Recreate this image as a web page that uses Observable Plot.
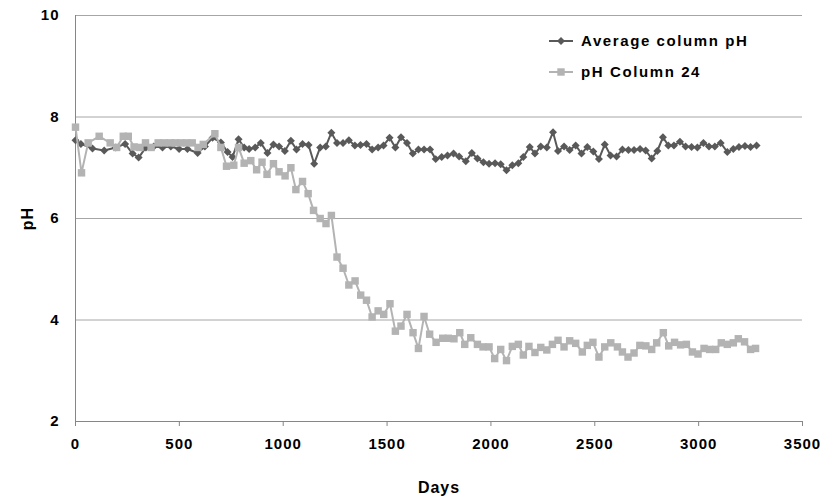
<!DOCTYPE html>
<html>
<head>
<meta charset="utf-8">
<script src="https://cdn.jsdelivr.net/npm/d3@7"></script>
<script src="https://cdn.jsdelivr.net/npm/@observablehq/plot@0.6"></script>
<style>
  html, body { margin: 0; padding: 0; background: #fff; }
  #wrap { position: relative; width: 823px; height: 498px; font-family: "Liberation Sans", Arial, sans-serif; }
  #wrap svg text { font-weight: bold; letter-spacing: 1px; }
  #wrap svg [aria-label="x-axis label"] text, #wrap svg [aria-label="y-axis label"] text { font-size: 16px; }
  .legend { position: absolute; left: 548px; top: 25px; font-size: 15px; font-weight: bold; color: #000; letter-spacing: 1.6px; }
  .legend .row { display: flex; align-items: center; height: 31px; }
  .legend svg { margin-right: 7px; }
</style>
</head>
<body>
<div id="wrap"></div>
<script>
// Average column pH (dark diamonds)
const avgDays = [0,26,82,138,194,239,275,304,339,377,419,459,499,539,588,623,660,700,732,756,785,812,836,865,892,924,953,980,1008,1037,1064,1093,1122,1149,1178,1205,1232,1259,1288,1316,1345,1372,1401,1428,1457,1483,1512,1540,1567,1596,1624,1651,1678,1707,1734,1763,1791,1820,1847,1879,1908,1935,1964,1991,2020,2047,2075,2103,2132,2156,2187,2212,2240,2269,2299,2323,2352,2379,2408,2436,2464,2493,2520,2548,2576,2605,2633,2662,2689,2718,2745,2774,2801,2828,2854,2881,2910,2937,2966,2994,3023,3050,3078,3106,3138,3167,3194,3223,3250,3279];
const avgPH = [7.54,7.47,7.38,7.34,7.40,7.47,7.28,7.20,7.40,7.42,7.40,7.42,7.37,7.37,7.29,7.42,7.59,7.50,7.31,7.21,7.56,7.40,7.37,7.40,7.49,7.29,7.46,7.42,7.33,7.53,7.36,7.47,7.45,7.08,7.40,7.42,7.69,7.49,7.49,7.54,7.44,7.45,7.47,7.36,7.40,7.44,7.59,7.40,7.60,7.49,7.28,7.36,7.36,7.36,7.17,7.21,7.24,7.28,7.22,7.13,7.29,7.18,7.11,7.08,7.09,7.07,6.95,7.05,7.09,7.21,7.41,7.28,7.42,7.40,7.70,7.33,7.42,7.35,7.44,7.28,7.41,7.32,7.17,7.46,7.24,7.22,7.36,7.35,7.35,7.37,7.34,7.18,7.33,7.60,7.44,7.44,7.51,7.42,7.41,7.40,7.49,7.42,7.42,7.49,7.31,7.37,7.41,7.43,7.41,7.44];

// pH Column 24 (light squares)
const c24Days = [0,29,61,114,167,198,230,254,282,310,337,364,398,427,456,480,507,535,562,590,615,671,700,727,762,785,812,844,872,898,922,953,980,1009,1037,1061,1093,1120,1146,1178,1206,1232,1259,1288,1316,1346,1373,1401,1428,1457,1484,1514,1540,1567,1596,1625,1651,1678,1705,1736,1768,1795,1822,1850,1874,1903,1935,1962,1991,2018,2047,2075,2103,2132,2156,2183,2212,2240,2269,2296,2323,2352,2379,2408,2440,2464,2491,2520,2548,2577,2609,2633,2660,2689,2717,2746,2774,2798,2830,2856,2884,2913,2941,2970,2997,3026,3053,3082,3109,3138,3167,3191,3221,3250,3274];
const c24PH = [7.80,6.90,7.49,7.62,7.49,7.40,7.62,7.62,7.41,7.40,7.49,7.40,7.49,7.49,7.49,7.49,7.49,7.49,7.49,7.40,7.46,7.67,7.40,7.03,7.05,7.40,7.09,7.14,6.96,7.11,6.87,7.08,6.92,6.84,7.00,6.57,6.73,6.49,6.16,6.00,5.90,6.06,5.24,5.02,4.69,4.77,4.49,4.39,4.06,4.18,4.11,4.32,3.78,3.88,4.11,3.75,3.44,4.07,3.72,3.56,3.64,3.64,3.63,3.75,3.52,3.65,3.52,3.47,3.47,3.24,3.42,3.20,3.48,3.52,3.31,3.48,3.36,3.46,3.41,3.52,3.60,3.47,3.59,3.54,3.37,3.50,3.56,3.27,3.47,3.55,3.47,3.37,3.27,3.35,3.50,3.49,3.42,3.55,3.75,3.49,3.56,3.51,3.52,3.37,3.33,3.44,3.42,3.42,3.55,3.52,3.55,3.63,3.57,3.42,3.44];

const xTicks = [0,500,1000,1500,2000,2500,3000,3500];
const yTicks = [2,4,6,8,10];
const seriesNames = ["Average column pH", "pH Column 24"];

const avg = avgDays.map((d, i) => ({day: d, ph: avgPH[i]}));
const c24 = c24Days.map((d, i) => ({day: d, ph: c24PH[i]}));

const darkC = "#595959", lightC = "#b3b3b3", gridC = "#a6a6a6", axisC = "#868686";

const chart = Plot.plot({
  width: 823,
  height: 498,
  marginLeft: 75,
  marginRight: 21,
  marginTop: 15,
  marginBottom: 77,
  style: {fontFamily: "'Liberation Sans', Arial, sans-serif", fontSize: "15px", color: "#000", background: "#fff"},
  x: {domain: [0, 3500]},
  y: {domain: [2, 10]},
  marks: [
    Plot.gridY(yTicks, {stroke: gridC, strokeOpacity: 1, strokeWidth: 1}),
    Plot.ruleX([0], {stroke: axisC, strokeWidth: 1}),
    Plot.ruleY([2], {stroke: axisC, strokeWidth: 1}),
    Plot.axisX(xTicks, {tickSize: 5, stroke: axisC, tickPadding: 12, tickFormat: d => String(d), label: "Days", labelAnchor: "center", labelArrow: "none", labelOffset: 71, fontSize: 15}),
    Plot.axisY(yTicks, {tickSize: 0, tickPadding: 16, tickFormat: d => String(d), label: "pH", labelAnchor: "center", labelArrow: "none", labelOffset: 54, fontSize: 15}),
    Plot.line(avg, {x: "day", y: "ph", stroke: darkC, strokeWidth: 2}),
    Plot.dot(avg, {x: "day", y: "ph", symbol: "diamond2", r: 3.6, fill: darkC, stroke: "none"}),
    Plot.line(c24, {x: "day", y: "ph", stroke: lightC, strokeWidth: 2}),
    Plot.dot(c24, {x: "day", y: "ph", symbol: "square", r: 4.2, fill: lightC, stroke: "none"})
  ]
});
const wrap = document.getElementById("wrap");
wrap.appendChild(chart);

// legend
const leg = document.createElement("div");
leg.className = "legend";
const markers = [
  `<svg width="26" height="12"><line x1="1" x2="25" y1="6" y2="6" stroke="${darkC}" stroke-width="2"/><path d="M13,2 L17,6 L13,10 L9,6 Z" fill="${darkC}"/></svg>`,
  `<svg width="26" height="12"><line x1="1" x2="25" y1="6" y2="6" stroke="${lightC}" stroke-width="2"/><rect x="9.3" y="2.3" width="7.4" height="7.4" fill="${lightC}"/></svg>`
];
seriesNames.forEach((n, i) => {
  const r = document.createElement("div");
  r.className = "row";
  r.innerHTML = markers[i] + `<span>${n}</span>`;
  leg.appendChild(r);
});
wrap.appendChild(leg);
</script>
</body>
</html>
